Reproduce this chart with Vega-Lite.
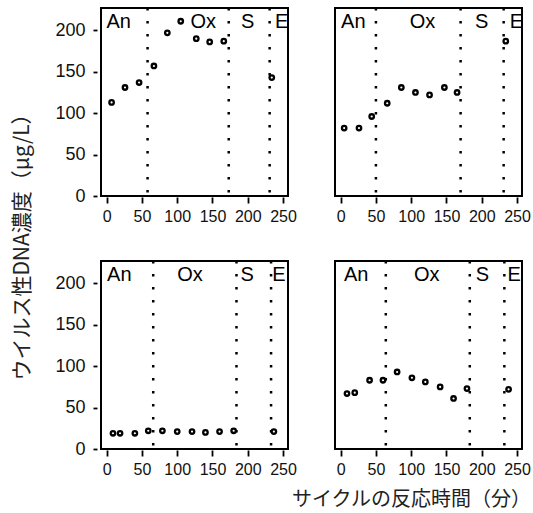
{
  "$schema": "https://vega.github.io/schema/vega-lite/v6.json",
  "background": "white",
  "padding": {"left": 11, "top": 5, "right": 5, "bottom": 5},
  "datasets": {
    "d": [
      {"r": 1, "c": 1, "k": "pt", "t": 7, "v": 113},
      {"r": 1, "c": 1, "k": "pt", "t": 26, "v": 131},
      {"r": 1, "c": 1, "k": "pt", "t": 46, "v": 137},
      {"r": 1, "c": 1, "k": "pt", "t": 67, "v": 157},
      {"r": 1, "c": 1, "k": "pt", "t": 86, "v": 197},
      {"r": 1, "c": 1, "k": "pt", "t": 105, "v": 211},
      {"r": 1, "c": 1, "k": "pt", "t": 127, "v": 190},
      {"r": 1, "c": 1, "k": "pt", "t": 146, "v": 186},
      {"r": 1, "c": 1, "k": "pt", "t": 166, "v": 187},
      {"r": 1, "c": 1, "k": "pt", "t": 234, "v": 143},
      {"r": 1, "c": 1, "k": "line", "t": 58},
      {"r": 1, "c": 1, "k": "line", "t": 173},
      {"r": 1, "c": 1, "k": "line", "t": 231},
      {"r": 1, "c": 1, "k": "lab", "t": 17, "v": 203, "lab": "An"},
      {"r": 1, "c": 1, "k": "lab", "t": 137, "v": 203, "lab": "Ox"},
      {"r": 1, "c": 1, "k": "lab", "t": 200, "v": 203, "lab": "S"},
      {"r": 1, "c": 1, "k": "lab", "t": 248, "v": 203, "lab": "E"},

      {"r": 1, "c": 2, "k": "pt", "t": 5, "v": 82},
      {"r": 1, "c": 2, "k": "pt", "t": 26, "v": 82},
      {"r": 1, "c": 2, "k": "pt", "t": 44, "v": 96},
      {"r": 1, "c": 2, "k": "pt", "t": 66, "v": 112},
      {"r": 1, "c": 2, "k": "pt", "t": 86, "v": 131},
      {"r": 1, "c": 2, "k": "pt", "t": 106, "v": 125},
      {"r": 1, "c": 2, "k": "pt", "t": 126, "v": 122},
      {"r": 1, "c": 2, "k": "pt", "t": 147, "v": 131},
      {"r": 1, "c": 2, "k": "pt", "t": 165, "v": 125},
      {"r": 1, "c": 2, "k": "pt", "t": 234, "v": 187},
      {"r": 1, "c": 2, "k": "line", "t": 50},
      {"r": 1, "c": 2, "k": "line", "t": 170},
      {"r": 1, "c": 2, "k": "line", "t": 231},
      {"r": 1, "c": 2, "k": "lab", "t": 18, "v": 203, "lab": "An"},
      {"r": 1, "c": 2, "k": "lab", "t": 116, "v": 203, "lab": "Ox"},
      {"r": 1, "c": 2, "k": "lab", "t": 200, "v": 203, "lab": "S"},
      {"r": 1, "c": 2, "k": "lab", "t": 249, "v": 203, "lab": "E"},

      {"r": 2, "c": 1, "k": "pt", "t": 9, "v": 19},
      {"r": 2, "c": 1, "k": "pt", "t": 19, "v": 19},
      {"r": 2, "c": 1, "k": "pt", "t": 40, "v": 19},
      {"r": 2, "c": 1, "k": "pt", "t": 59, "v": 22},
      {"r": 2, "c": 1, "k": "pt", "t": 79, "v": 22},
      {"r": 2, "c": 1, "k": "pt", "t": 100, "v": 21},
      {"r": 2, "c": 1, "k": "pt", "t": 121, "v": 21},
      {"r": 2, "c": 1, "k": "pt", "t": 140, "v": 20},
      {"r": 2, "c": 1, "k": "pt", "t": 160, "v": 21},
      {"r": 2, "c": 1, "k": "pt", "t": 180, "v": 22},
      {"r": 2, "c": 1, "k": "pt", "t": 237, "v": 21},
      {"r": 2, "c": 1, "k": "line", "t": 66},
      {"r": 2, "c": 1, "k": "line", "t": 184},
      {"r": 2, "c": 1, "k": "line", "t": 233},
      {"r": 2, "c": 1, "k": "lab", "t": 18, "v": 203, "lab": "An"},
      {"r": 2, "c": 1, "k": "lab", "t": 118, "v": 203, "lab": "Ox"},
      {"r": 2, "c": 1, "k": "lab", "t": 199, "v": 203, "lab": "S"},
      {"r": 2, "c": 1, "k": "lab", "t": 244, "v": 203, "lab": "E"},

      {"r": 2, "c": 2, "k": "pt", "t": 9, "v": 67},
      {"r": 2, "c": 2, "k": "pt", "t": 20, "v": 68},
      {"r": 2, "c": 2, "k": "pt", "t": 41, "v": 83},
      {"r": 2, "c": 2, "k": "pt", "t": 60, "v": 83},
      {"r": 2, "c": 2, "k": "pt", "t": 80, "v": 93},
      {"r": 2, "c": 2, "k": "pt", "t": 101, "v": 86},
      {"r": 2, "c": 2, "k": "pt", "t": 120, "v": 81},
      {"r": 2, "c": 2, "k": "pt", "t": 141, "v": 75},
      {"r": 2, "c": 2, "k": "pt", "t": 160, "v": 61},
      {"r": 2, "c": 2, "k": "pt", "t": 179, "v": 73},
      {"r": 2, "c": 2, "k": "pt", "t": 238, "v": 72},
      {"r": 2, "c": 2, "k": "line", "t": 64},
      {"r": 2, "c": 2, "k": "line", "t": 183},
      {"r": 2, "c": 2, "k": "line", "t": 232},
      {"r": 2, "c": 2, "k": "lab", "t": 22, "v": 203, "lab": "An"},
      {"r": 2, "c": 2, "k": "lab", "t": 122, "v": 203, "lab": "Ox"},
      {"r": 2, "c": 2, "k": "lab", "t": 201, "v": 203, "lab": "S"},
      {"r": 2, "c": 2, "k": "lab", "t": 246, "v": 203, "lab": "E"}
    ]
  },
  "data": {"name": "d"},
  "facet": {
    "row": {
      "field": "r", "type": "ordinal",
      "header": {
        "title": "ウイルス性DNA濃度（μg/L）",
        "labels": false,
        "titleOrient": "left",
        "titleAngle": -90,
        "titleFont": "Noto Sans CJK JP",
        "titleFontSize": 21,
        "titleFontWeight": "normal",
        "titleColor": "#222",
        "titlePadding": -10
      }
    },
    "column": {
      "field": "c", "type": "ordinal",
      "header": {
        "title": "サイクルの反応時間（分）",
        "labels": false,
        "titleOrient": "bottom",
        "titleAnchor": "end",
        "titleFont": "Noto Sans CJK JP",
        "titleFontSize": 20,
        "titleFontWeight": "normal",
        "titleColor": "#222",
        "titlePadding": 2
      }
    }
  },
  "spacing": {"row": 33, "column": 36},
  "resolve": {"axis": {"x": "independent"}},
  "spec": {
    "width": 187,
    "height": 188,
    "encoding": {
      "x": {
        "field": "t", "type": "quantitative",
        "scale": {"domain": [-8, 257], "nice": false, "zero": false},
        "axis": {"values": [0, 50, 100, 150, 200, 250], "title": null, "labelFontSize": 16, "labelPadding": 5, "offset": 1, "tickSize": 6}
      },
      "y": {
        "field": "v", "type": "quantitative",
        "scale": {"domain": [0, 227], "nice": false},
        "axis": {"values": [0, 50, 100, 150, 200], "title": null, "labelFontSize": 18, "labelPadding": 8, "offset": 3, "tickSize": 4}
      }
    },
    "layer": [
      {
        "transform": [{"filter": "datum.k == 'line'"}],
        "mark": {"type": "rule", "color": "black", "strokeWidth": 2.5, "strokeDash": [2.5, 10.5], "strokeCap": "butt"},
        "encoding": {"y": null}
      },
      {
        "transform": [{"filter": "datum.k == 'pt'"}],
        "mark": {"type": "point", "filled": false, "color": "black", "size": 20, "strokeWidth": 2.3, "opacity": 1}
      },
      {
        "transform": [{"filter": "datum.k == 'lab'"}],
        "mark": {"type": "text", "font": "Liberation Sans", "fontSize": 20, "color": "black", "align": "center", "baseline": "alphabetic"},
        "encoding": {"text": {"field": "lab"}}
      }
    ]
  },
  "config": {
    "view": {"stroke": "black", "strokeWidth": 2},
    "axis": {
      "domain": false,
      "grid": false,
      "ticks": true,
      "tickColor": "black",
      "tickWidth": 1.8,
      "labelColor": "#111",
      "labelFont": "Liberation Sans"
    }
  }
}
